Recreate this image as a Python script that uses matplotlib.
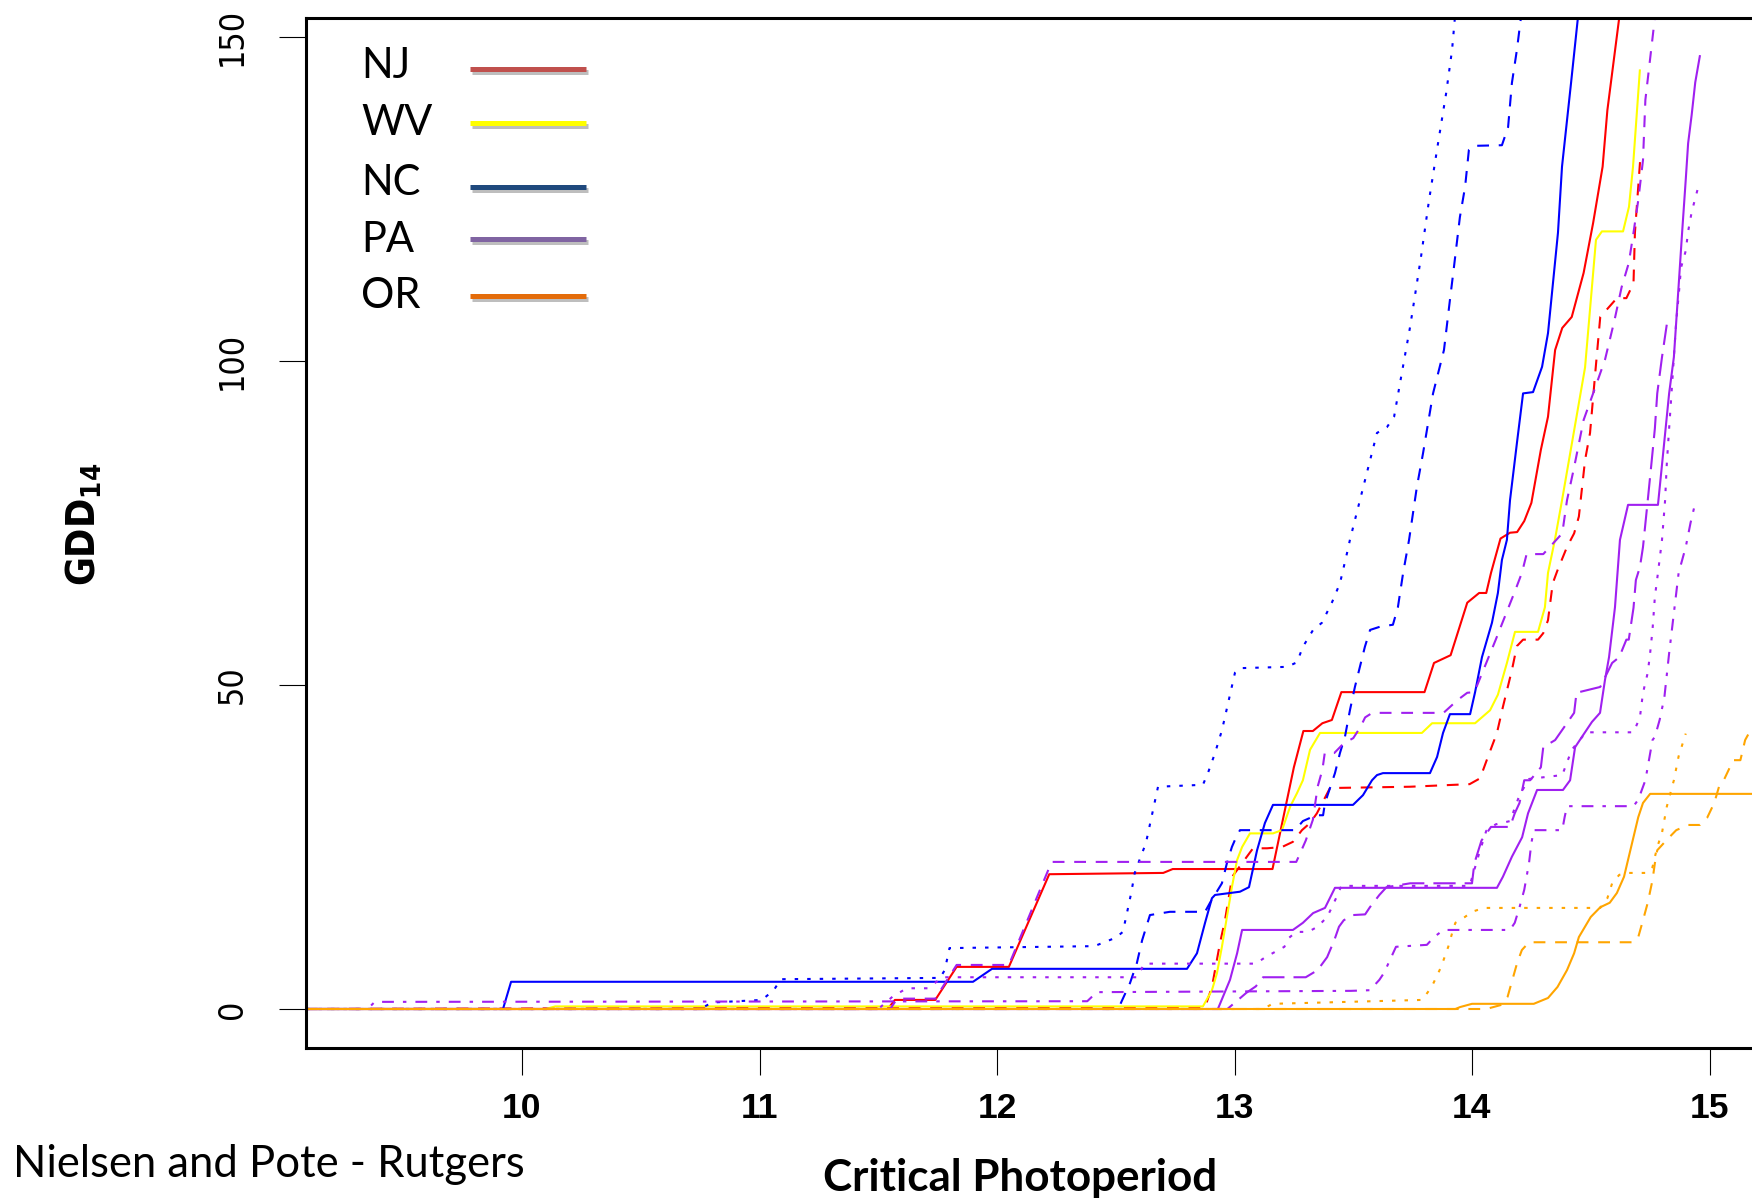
import matplotlib
matplotlib.use("Agg")
import matplotlib.pyplot as plt
import matplotlib.patheffects as pe
from matplotlib.lines import Line2D
from matplotlib import font_manager as fm
from matplotlib.font_manager import FontProperties

W, H, DPI = 1752, 1199, 100

# ------------------------------------------------------------------ data
x_ticks = [10, 11, 12, 13, 14, 15]
y_ticks = [0, 50, 100, 150]

legend_labels = ["NJ", "WV", "NC", "PA", "OR"]
legend_colors = ["#C0504D", "#FFFF00", "#1F497D", "#8064A2", "#E46C0A"]

# NJ (red)
nj_solid_x = [9.09, 11.54, 11.57, 11.74, 11.83, 12.05, 12.22, 12.70, 12.74, 13.16, 13.25, 13.29, 13.33, 13.37, 13.41,
              13.45, 13.80, 13.84, 13.91, 13.98, 14.03, 14.06, 14.08, 14.12, 14.16, 14.19, 14.22, 14.25, 14.29, 14.32,
              14.35, 14.38, 14.42, 14.47, 14.51, 14.55, 14.57, 14.62]
nj_solid_y = [0, 0, 1.4, 1.4, 6.5, 6.5, 20.8, 21.0, 21.6, 21.6, 37.3, 42.9, 42.9, 44.1, 44.6, 48.9, 48.9, 53.4, 54.6,
              62.7, 64.2, 64.2, 67.3, 72.6, 73.5, 73.6, 75.3, 78.1, 86.3, 91.4, 101.7, 105.1, 106.8, 113.6, 121.3, 130,
              138.7, 153]
nj_dash_x = [9.09, 12.876, 12.905, 12.939, 12.96, 12.99, 13.078, 13.137, 13.2, 13.246, 13.284, 13.318, 13.347, 13.402,
             13.739, 13.99, 14.034, 14.067, 14.105, 14.13, 14.168, 14.189, 14.215, 14.278, 14.30, 14.32, 14.34, 14.36,
             14.40, 14.43, 14.45, 14.476, 14.497, 14.52, 14.54, 14.61, 14.65, 14.68, 14.686, 14.71]
nj_dash_y = [0, 0.3, 3.4, 10.2, 13.7, 20.4, 24.8, 24.8, 25.0, 25.8, 27.6, 28.7, 30.2, 34.1, 34.3, 34.7, 35.6, 38.9,
             42.6, 46.6, 52.3, 56, 57, 57, 58, 60, 65.7, 67.7, 71.3, 73.4, 76, 84.7, 88.9, 98.6, 106.8, 109.7, 109.7,
             112, 119.8, 132]

# WV (yellow)
wv_solid_x = [9.09, 10.10, 10.14, 12.867, 12.905, 12.926, 12.947, 12.968, 12.989, 13.011, 13.032, 13.065, 13.162, 13.2,
              13.234, 13.263, 13.288, 13.318, 13.36, 13.789, 13.832, 14.013, 14.076, 14.109, 14.147, 14.181, 14.278,
              14.307, 14.32, 14.349, 14.379, 14.476, 14.522, 14.547, 14.636, 14.661, 14.678, 14.707]
wv_solid_y = [0, 0, 0.4, 0.4, 2.9, 5.5, 9.6, 14.2, 18.8, 23, 25, 27.1, 27.1, 27.6, 31.2, 33.3, 35.3, 40, 42.6, 42.6,
              44.1, 44.1, 46.1, 48.5, 53.4, 58.2, 58.2, 62, 67.3, 72.4, 78.5, 99, 118.7, 120, 120, 123.8, 130, 145]

# NC (blue)
nc_solid_x = [9.09, 9.92, 9.954, 11.899, 11.979, 12.80, 12.842, 12.876, 12.905, 12.918, 13.023, 13.061, 13.095, 13.128,
              13.162, 13.499, 13.541, 13.579, 13.60, 13.625, 13.823, 13.853, 13.878, 13.907, 13.992, 14.013, 14.042,
              14.084, 14.109, 14.126, 14.147, 14.16, 14.189, 14.215, 14.257, 14.295, 14.32, 14.362, 14.379, 14.417,
              14.446]
nc_solid_y = [0, 0, 4.2, 4.2, 6.2, 6.2, 8.6, 13.3, 17.1, 17.6, 18.1, 18.8, 24.5, 28.7, 31.5, 31.5, 33, 35.3, 36.1, 36.4,
              36.4, 38.9, 42.6, 45.5, 45.5, 48.9, 54.3, 59.6, 64.2, 69.3, 72.4, 78.5, 87.3, 95, 95.2, 99.1, 104.3,
              119.8, 130, 142.9, 153]
nc_dash_x = [9.09, 12.51, 12.56, 12.589, 12.611, 12.644, 12.728, 12.876, 12.897, 12.947, 12.968, 12.989, 13.002,
             13.023, 13.255, 13.288, 13.343, 13.373, 13.381, 13.402, 13.423, 13.444, 13.465, 13.486, 13.507, 13.528,
             13.549, 13.571, 13.613, 13.667, 13.688, 13.71, 13.735, 13.768, 13.794, 13.836, 13.882, 13.907, 13.924,
             13.949, 13.971, 13.987, 14.004, 14.126, 14.152, 14.168, 14.189, 14.206]
nc_dash_y = [0, 0, 4, 7.1, 10.6, 14.5, 15, 15, 16.4, 19.4, 22.5, 25, 26.1, 27.6, 27.6, 29, 29.9, 29.9, 31.8, 34.1,
             36.4, 39.5, 42, 46.1, 49.7, 52.8, 55.9, 58.5, 59, 59.3, 62, 67.3, 72.4, 80.6, 85.8, 95, 101.7, 109.4,
             114.5, 122.2, 126.9, 132.6, 133.2, 133.3, 136.1, 142.9, 148, 153]
nc_dot_x = [9.09, 10.75, 10.80, 11.01, 11.06, 11.09, 11.76, 11.78, 11.80, 12.41, 12.50, 12.53, 12.55, 12.565, 12.58,
            12.60, 12.627, 12.678, 12.867, 12.888, 12.918, 12.947, 12.973, 13.002, 13.023, 13.221, 13.263, 13.288,
            13.331, 13.368, 13.411, 13.444, 13.474, 13.486, 13.528, 13.60, 13.642, 13.672, 13.697, 13.739, 13.785,
            13.819, 13.857, 13.891, 13.916, 13.928]
nc_dot_y = [0, 0, 1, 1.4, 2.9, 4.6, 4.8, 6, 9.4, 9.7, 11, 11.9, 15.3, 17.9, 21, 23, 25.6, 34.3, 34.6, 36.4, 39.5, 43,
            47.2, 51.9, 52.6, 52.8, 53.5, 55.9, 58.5, 59.6, 62.8, 65.7, 70.4, 72.4, 78.5, 88.9, 89.8, 91.4, 96.6,
            105.2, 116, 124.8, 133.6, 141.3, 148, 153]

# PA (purple)
pa_solid_x = [9.09, 12.93, 12.981, 13.011, 13.032, 13.246, 13.288, 13.331, 13.381, 13.423, 14.105, 14.13, 14.168,
              14.211, 14.236, 14.274, 14.383, 14.413, 14.434, 14.463, 14.505, 14.539, 14.56, 14.577, 14.602, 14.623,
              14.657, 14.783, 14.80, 14.83, 14.85, 14.87, 14.885, 14.90, 14.91, 14.925, 14.94, 14.96]
pa_solid_y = [0, 0, 4.5, 8.6, 12.2, 12.2, 13.3, 14.8, 15.6, 18.7, 18.7, 20.4, 23.5, 26.5, 30.2, 33.8, 33.8, 35.3, 40.4,
              42, 44.3, 45.7, 50.8, 54.3, 62, 72.4, 77.8, 77.8, 84, 95, 100.6, 111.6, 120, 128, 133.6, 138, 143, 147.2]
pa_dash_x = [9.09, 11.55, 11.58, 11.74, 11.83, 12.05, 12.23, 13.26, 13.27, 13.30, 13.33, 13.35, 13.37, 13.38, 13.42,
             13.46, 13.50, 13.53, 13.55, 13.58, 13.88, 13.94, 13.98, 14.01, 14.10, 14.18, 14.21, 14.23, 14.30, 14.38,
             14.40, 14.43, 14.47, 14.51, 14.56, 14.60, 14.63, 14.66, 14.68, 14.70, 14.72, 14.73, 14.77]
pa_dash_y = [0, 0, 1.6, 1.6, 6.8, 6.8, 22.7, 22.7, 23.5, 26, 29.2, 34.3, 36.9, 39.5, 39.5, 41, 41.8, 43.5, 45, 45.7,
             45.7, 47.7, 48.8, 48.9, 57, 64.4, 67.3, 70.2, 70.2, 73.4, 78.5, 83.6, 90.9, 95, 100.2, 106.3, 111.4, 115.1,
             119.8, 124.8, 131, 140.3, 153]
pa_dot_x = [9.09, 11.50, 11.56, 11.62, 11.71, 11.77, 12.59, 12.62, 13.09, 13.13, 13.17, 13.21, 13.23, 13.26, 13.31,
            13.35, 13.39, 13.41, 13.43, 13.45, 13.99, 14.03, 14.06, 14.10, 14.16, 14.20, 14.24, 14.38, 14.42, 14.48,
            14.68, 14.707, 14.72, 14.74, 14.75, 14.76, 14.77, 14.783, 14.80, 14.813, 14.82, 14.83, 14.84, 14.85,
            14.86, 14.87, 14.88, 14.90, 14.91, 14.925, 14.95]
pa_dot_y = [0, 0, 1.9, 3.2, 3.2, 4.9, 4.9, 7, 7, 8, 8.8, 9.6, 11, 11.9, 11.9, 12.7, 14.2, 15.7, 17.3, 19.0, 19.0, 24,
            27.5, 28.5, 29, 33, 35.5, 36.1, 40, 42.7, 42.7, 45, 48.8, 51.9, 54.9, 58.5, 63.6, 67.3, 72.4, 78.5, 84,
            89.6, 95, 100.6, 106.2, 110, 114.4, 117, 120, 123, 126.5]
pa_long_x = [9.09, 12.97, 13.05, 13.09, 13.12, 13.30, 13.35, 13.39, 13.42, 13.44, 13.46, 13.50, 13.55, 13.57, 13.61,
             13.64, 13.74, 14.00, 14.01, 14.04, 14.08, 14.16, 14.18, 14.20, 14.22, 14.245, 14.29, 14.30, 14.35, 14.43,
             14.44, 14.54, 14.59, 14.62, 14.65, 14.66, 14.68, 14.69, 14.707, 14.72, 14.74, 14.755, 14.77, 14.78,
             14.80, 14.82]
pa_long_y = [0, 0, 2.5, 3.5, 4.9, 4.9, 6, 8, 10.6, 12.7, 13.7, 14.5, 14.6, 15.7, 17.6, 18.8, 19.4, 19.4, 22.5, 26,
             28.1, 28.1, 30.2, 31.8, 35.3, 35.3, 37.3, 40.4, 41.5, 45.7, 48.8, 49.7, 53.4, 54.3, 57, 57, 61.9, 66.2,
             68.2, 71.3, 78.5, 84, 89.6, 95, 100.6, 105.6]
pa_dotdash_x = [9.09, 9.35, 9.38, 12.38, 12.42, 13.49, 13.57, 13.61, 13.63, 13.68, 13.81, 13.84, 13.88, 14.16, 14.18,
                14.20, 14.22, 14.24, 14.25, 14.26, 14.38, 14.39, 14.40, 14.68, 14.70, 14.72, 14.73, 14.76, 14.77,
                14.79, 14.81, 14.83, 14.85, 14.87, 14.90, 14.92, 14.94]
pa_dotdash_y = [0, 0, 1.1, 1.2, 2.6, 2.8, 2.9, 4.5, 5.6, 9.6, 9.9, 11.1, 12.2, 12.2, 13.3, 15.7, 18.4, 22.5, 25.6,
                27.6, 27.6, 29.6, 31.3, 31.3, 32.3, 34.3, 35.3, 41.5, 42, 44.6, 48.1, 54.9, 61.1, 67.3, 71.3, 75, 78.1]

# OR (orange)
or_solid_x = [9.09, 13.93, 13.95, 14.0, 14.26, 14.32, 14.36, 14.40, 14.43, 14.45, 14.50, 14.54, 14.58, 14.61, 14.64,
              14.67, 14.70, 14.72, 14.75, 15.18]
or_solid_y = [0, 0, 0.3, 0.8, 0.8, 1.7, 3.4, 6, 8.6, 11.1, 14.2, 15.7, 16.4, 17.9, 20.4, 25, 29.6, 31.8, 33.2, 33.2]
or_dash_x = [9.09, 14.06, 14.12, 14.15, 14.17, 14.19, 14.21, 14.24, 14.68, 14.70, 14.72, 14.74, 14.76, 14.77, 14.78,
             14.82, 14.86, 14.91, 14.96, 14.99, 15.02, 15.04, 15.06, 15.10, 15.13, 15.15, 15.18]
or_dash_y = [0, 0, 0.6, 1.9, 4.5, 7.1, 9.1, 10.3, 10.3, 11.1, 13.7, 16.4, 19.9, 22.5, 24.5, 26.1, 27.6, 28.4, 28.4,
             29.5, 31.8, 34.3, 35.3, 38.4, 38.4, 41.5, 43.5]
or_dot_x = [9.09, 13.12, 13.16, 13.79, 13.83, 13.87, 13.90, 13.92, 13.93, 13.97, 14.0, 14.05, 14.54, 14.57, 14.59,
            14.62, 14.65, 14.74, 14.76, 14.78, 14.80, 14.82, 14.85, 14.87, 14.90]
or_dot_y = [0, 0, 0.8, 1.4, 3.4, 6.5, 9.6, 12.2, 13.3, 14.2, 15, 15.6, 15.6, 17.1, 19.4, 20.7, 21, 21, 21.9, 25, 27.2,
            31.2, 35.3, 39, 42.5]

# ------------------------------------------------------------------ fonts
names = {f.name for f in fm.fontManager.ttflist}


def pick(*cands):
    for c in cands:
        if c in names:
            return c
    return "DejaVu Sans"


SANS = pick("Liberation Sans", "DejaVu Sans")
CAL = pick("Lato", "Open Sans", "DejaVu Sans")


def usable(pattern):
    try:
        p = FontProperties(pattern)
        fm.findfont(p, fallback_to_default=False)
        return p
    except Exception:
        return None


# narrow / condensed face for the rotated y tick labels and the y title
NARROW_PROP, NARROW_BOLD_PAT, HAVE_NARROW = None, None, False
if "Liberation Sans Narrow" in names:
    NARROW_PROP = FontProperties(family="Liberation Sans Narrow")
    NARROW_BOLD_PAT = "Liberation Sans Narrow:weight=bold"
    HAVE_NARROW = True
else:
    try:
        cp = FontProperties(family="DejaVu Sans", stretch="condensed")
        if "ondensed" in fm.findfont(cp, fallback_to_default=False):
            NARROW_PROP = cp
            NARROW_BOLD_PAT = "DejaVu Sans:weight=bold:stretch=condensed"
    except Exception:
        NARROW_PROP = None
if NARROW_PROP is None:
    NARROW_PROP = FontProperties(family=SANS)
if NARROW_BOLD_PAT is None or usable(NARROW_BOLD_PAT) is None:
    NARROW_BOLD_PAT = SANS + ":weight=bold"

plt.rcParams["lines.scale_dashes"] = False
plt.rcParams["mathtext.fontset"] = "custom"
plt.rcParams["mathtext.bf"] = NARROW_BOLD_PAT
plt.rcParams["mathtext.rm"] = SANS

RED, YEL, BLU, PUR, ORA = "#FF0000", "#FFFF00", "#0000FF", "#A020F0", "#FFA500"
LS = {
    "solid": "-",
    "dashed": (0, (8.5, 7.0)),
    "dotted": (0, (2.5, 6.5)),
    "dotdash": (0, (2.5, 6.5, 8.5, 6.5)),
    "longdash": (0, (16.0, 6.5)),
}

series = [
    (nj_solid_x, nj_solid_y, RED, "solid"),
    (nj_dash_x, nj_dash_y, RED, "dashed"),
    (wv_solid_x, wv_solid_y, YEL, "solid"),
    (nc_solid_x, nc_solid_y, BLU, "solid"),
    (nc_dash_x, nc_dash_y, BLU, "dashed"),
    (nc_dot_x, nc_dot_y, BLU, "dotted"),
    (pa_solid_x, pa_solid_y, PUR, "solid"),
    (pa_dash_x, pa_dash_y, PUR, "dashed"),
    (pa_dot_x, pa_dot_y, PUR, "dotted"),
    (pa_long_x, pa_long_y, PUR, "longdash"),
    (pa_dotdash_x, pa_dotdash_y, PUR, "dotdash"),
    (or_solid_x, or_solid_y, ORA, "solid"),
    (or_dash_x, or_dash_y, ORA, "dashed"),
    (or_dot_x, or_dot_y, ORA, "dotted"),
]

# ------------------------------------------------------------------ figure
fig = plt.figure(figsize=(W / DPI, H / DPI), dpi=DPI)


def fx(px):
    return px / W


def fy(py):
    return 1 - py / H


AX_L, AX_T, AX_B = 306, 17.5, 1047.5
ax = fig.add_axes([fx(AX_L), fy(AX_B), 1 - fx(AX_L), fy(AX_T) - fy(AX_B)])

# pixel calibration of the original axis: x=10 at 522 px, 237.5 px per unit; y=0 at 1009 px, 6.48 px per unit
ax.set_xlim(10 + (AX_L - 522) / 237.5, 10 + (W - 522) / 237.5)
ax.set_ylim((1009 - AX_B) / 6.48, (1009 - AX_T) / 6.48)

for xs, ys, col, ls in series:
    ax.plot(xs, ys, color=col, lw=1.5, linestyle=LS[ls], solid_capstyle="butt", dash_capstyle="butt",
            solid_joinstyle="round")

for s in ["left", "top", "bottom"]:
    ax.spines[s].set_linewidth(2.2)
    ax.spines[s].set_color("black")
ax.spines["right"].set_visible(False)

ax.set_xticks(x_ticks)
ax.set_xticklabels([str(t) for t in x_ticks], fontfamily=SANS, fontweight="bold", fontsize=25.5, va="center")
ax.tick_params(axis="x", length=19.4, width=0.8, pad=24.5, colors="black")
ax.set_yticks(y_ticks)
ylabs = ax.set_yticklabels([str(t) for t in y_ticks], rotation=90, va="center", ha="center",
                           fontproperties=NARROW_PROP)
for t in ylabs:
    t.set_fontsize(28 if HAVE_NARROW else 24.5)
ax.tick_params(axis="y", length=19.4, width=0.8, pad=33.8, colors="black")

# axis titles and source
t_src = fig.text(fx(13), fy(1177), "Nielsen and Pote - Rutgers", family=CAL, fontsize=28, ha="left",
                 va="baseline")
t_xl = fig.text(fx(1020), fy(1191), "Critical Photoperiod", family=CAL, weight="bold", fontsize=28,
                ha="center", va="baseline")
t_yl = fig.text(fx(84), fy(524), r"$\mathbf{GDD_{14}}$", fontsize=34, rotation=90, ha="center", va="center")

# legend (drawn as annotations)
leg_text_base = [78, 135, 195, 252, 308]
leg_line_y = [69, 123, 187, 239, 296]
for lab, col, tb, ly in zip(legend_labels, legend_colors, leg_text_base, leg_line_y):
    fig.text(fx(361), fy(tb), lab, family=CAL, fontsize=30, ha="left", va="baseline")
    ln = Line2D([fx(470), fx(586)], [fy(ly), fy(ly)], transform=fig.transFigure, color=col, lw=3.6,
                solid_capstyle="butt",
                path_effects=[pe.SimpleLineShadow(offset=(1.5, -2), shadow_color="#707070", alpha=0.45),
                              pe.Normal()])
    fig.add_artist(ln)

# fit text widths to the reference
fig.canvas.draw()
r = fig.canvas.get_renderer()


def fit(t, target, use_height=False):
    bb = t.get_window_extent(r)
    cur = bb.height if use_height else bb.width
    if cur > 0:
        t.set_fontsize(t.get_fontsize() * target / cur)


fit(t_src, 512)
fit(t_xl, 395)
fit(t_yl, 123, use_height=True)

fig.savefig("out.png", dpi=DPI)
